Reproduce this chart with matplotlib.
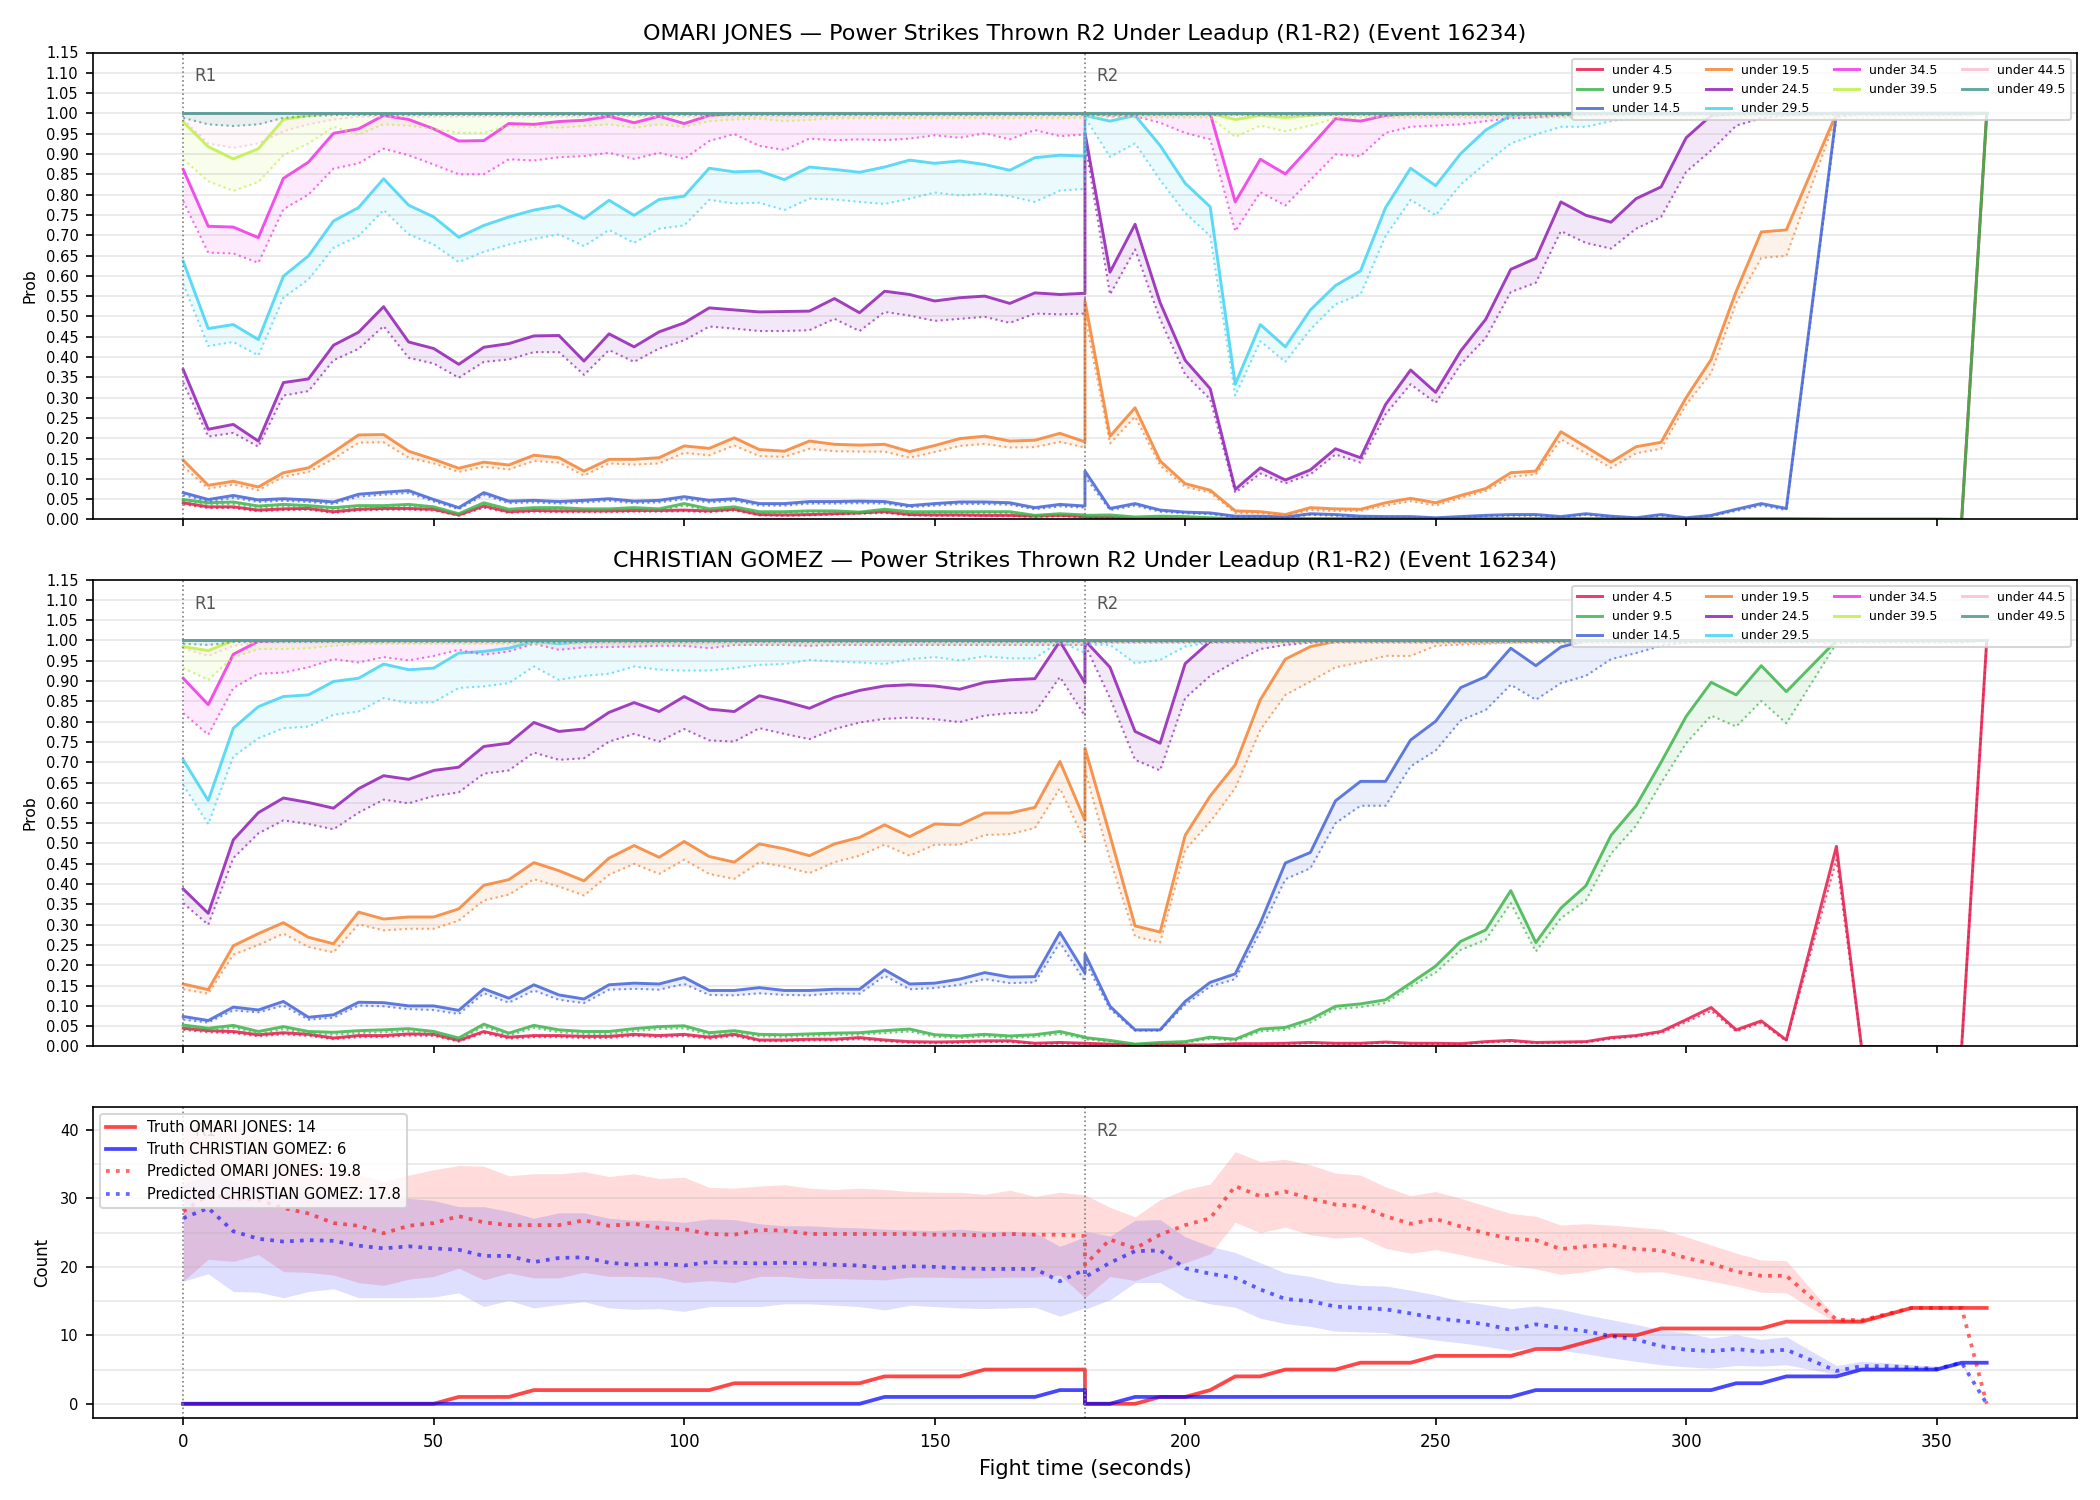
import matplotlib

matplotlib.use("Agg")
import matplotlib.pyplot as plt
import numpy as np
from matplotlib.ticker import FormatStrFormatter, MultipleLocator

# Sample times in seconds: R1 0-180, R2 180-360 (there is no 325 s sample).
TIME = np.concatenate([np.arange(0, 181, 5), np.arange(180, 321, 5), np.arange(330, 361, 5)])
ROUND_STARTS = [0, 180]
ROUND_NAMES = ["R1", "R2"]

THRESHOLDS = ["under 4.5", "under 9.5", "under 14.5", "under 19.5", "under 24.5",
              "under 29.5", "under 34.5", "under 39.5", "under 44.5", "under 49.5"]
COLORS = ["#e6194B", "#3cb44b", "#4363d8", "#f58231", "#911eb4",
          "#42d4f4", "#f032e6", "#bfef45", "#fabed4", "#469990"]

# ---------------- OMARI JONES: P(under x), line and lower bound ----------------
OJ_U4_5 = [
    0.041, 0.031, 0.031, 0.023, 0.026, 0.027, 0.019, 0.025, 0.027, 0.027,
    0.025, 0.011, 0.033, 0.019, 0.022, 0.021, 0.021, 0.021, 0.022, 0.022,
    0.023, 0.021, 0.025, 0.012, 0.011, 0.012, 0.014, 0.016, 0.019, 0.012,
    0.011, 0.011, 0.010, 0.010, 0.008, 0.010, 0.007,
] + [0.006, 0.005, 0.002, 0.002, 0.002, 0.001] + [0.001] * 23 + [0.0] * 6 + [1.0]
OJ_U4_5_LO = [
    0.037, 0.028, 0.028, 0.020, 0.023, 0.024, 0.016, 0.022, 0.024, 0.024,
    0.022, 0.009, 0.029, 0.016, 0.019, 0.018, 0.018, 0.018, 0.019, 0.019,
    0.020, 0.018, 0.022, 0.010, 0.009, 0.010, 0.012, 0.014, 0.016, 0.010,
    0.009, 0.009, 0.008, 0.008, 0.006, 0.008, 0.005,
] + [0.004, 0.003, 0.001, 0.001, 0.001, 0.0] + [0.0] * 29 + [1.0]

OJ_U9_5 = [
    0.049, 0.041, 0.043, 0.033, 0.037, 0.034, 0.029, 0.034, 0.034, 0.037,
    0.031, 0.014, 0.041, 0.025, 0.029, 0.029, 0.026, 0.026, 0.029, 0.026,
    0.039, 0.026, 0.031, 0.019, 0.019, 0.021, 0.021, 0.018, 0.025, 0.019,
    0.019, 0.019, 0.019, 0.019, 0.010, 0.014, 0.011,
] + [0.010, 0.011, 0.006, 0.008, 0.007, 0.004] + [0.002] * 23 + [0.001] * 5 + [0.0, 1.0]
OJ_U9_5_LO = [
    0.044, 0.036, 0.038, 0.028, 0.032, 0.029, 0.025, 0.029, 0.029, 0.032,
    0.027, 0.011, 0.036, 0.021, 0.025, 0.025, 0.022, 0.022, 0.025, 0.022,
    0.034, 0.022, 0.027, 0.016, 0.016, 0.018, 0.018, 0.015, 0.021, 0.016,
    0.016, 0.016, 0.016, 0.016, 0.008, 0.011, 0.009,
] + [0.008, 0.009, 0.004, 0.006, 0.005, 0.003] + [0.001] * 23 + [0.0] * 6 + [1.0]

OJ_U14_5 = [
    0.066, 0.049, 0.059, 0.048, 0.051, 0.048, 0.043, 0.062, 0.067, 0.071,
    0.049, 0.029, 0.066, 0.045, 0.047, 0.044, 0.047, 0.051, 0.045, 0.047,
    0.056, 0.047, 0.051, 0.039, 0.039, 0.044, 0.044, 0.045, 0.044, 0.034,
    0.039, 0.043, 0.043, 0.041, 0.029, 0.037, 0.033,
] + [
    0.119, 0.027, 0.039, 0.023, 0.018, 0.016, 0.008, 0.008, 0.006, 0.014,
    0.012, 0.008, 0.007, 0.007, 0.004, 0.007, 0.010, 0.012, 0.012, 0.007,
    0.014, 0.008, 0.004, 0.012, 0.004, 0.010, 0.025, 0.039, 0.027,
] + [1.0] * 7
OJ_U14_5_LO = [
    0.060, 0.044, 0.053, 0.043, 0.046, 0.043, 0.038, 0.056, 0.061, 0.065,
    0.044, 0.025, 0.060, 0.040, 0.042, 0.039, 0.042, 0.046, 0.040, 0.042,
    0.050, 0.042, 0.046, 0.034, 0.034, 0.039, 0.039, 0.040, 0.039, 0.030,
    0.034, 0.038, 0.038, 0.036, 0.025, 0.032, 0.029,
] + [
    0.105, 0.023, 0.034, 0.019, 0.015, 0.013, 0.006, 0.006, 0.004, 0.011,
    0.009, 0.006, 0.005, 0.005, 0.003, 0.005, 0.008, 0.009, 0.009, 0.005,
    0.011, 0.006, 0.003, 0.009, 0.003, 0.008, 0.021, 0.034, 0.023,
] + [0.99] + [1.0] * 6

OJ_U19_5 = [
    0.146, 0.084, 0.094, 0.080, 0.115, 0.127, 0.166, 0.208, 0.209, 0.168,
    0.148, 0.126, 0.141, 0.134, 0.158, 0.152, 0.119, 0.148, 0.148, 0.152,
    0.181, 0.175, 0.201, 0.172, 0.168, 0.193, 0.185, 0.183, 0.185, 0.167,
    0.182, 0.199, 0.205, 0.193, 0.195, 0.212, 0.191,
] + [
    0.538, 0.205, 0.275, 0.144, 0.088, 0.072, 0.021, 0.019, 0.012, 0.029,
    0.026, 0.025, 0.041, 0.052, 0.041, 0.059, 0.076, 0.115, 0.119, 0.216,
    0.179, 0.141, 0.179, 0.190, 0.300, 0.394, 0.562, 0.708, 0.713,
] + [1.0] * 7
OJ_U19_5_LO = [
    0.130, 0.076, 0.086, 0.072, 0.105, 0.117, 0.149, 0.189, 0.190, 0.152,
    0.138, 0.117, 0.130, 0.123, 0.144, 0.140, 0.108, 0.138, 0.135, 0.138,
    0.164, 0.158, 0.182, 0.156, 0.154, 0.174, 0.168, 0.167, 0.167, 0.152,
    0.166, 0.181, 0.186, 0.177, 0.178, 0.191, 0.177,
] + [
    0.500, 0.187, 0.253, 0.133, 0.080, 0.066, 0.016, 0.015, 0.010, 0.023,
    0.021, 0.021, 0.034, 0.045, 0.034, 0.053, 0.070, 0.105, 0.111, 0.197,
    0.163, 0.127, 0.163, 0.174, 0.283, 0.361, 0.534, 0.644, 0.649,
] + [0.993] + [1.0] * 6

OJ_U24_5 = [
    0.369, 0.222, 0.234, 0.193, 0.337, 0.346, 0.429, 0.461, 0.524, 0.437,
    0.421, 0.382, 0.424, 0.433, 0.452, 0.453, 0.390, 0.457, 0.425, 0.462,
    0.484, 0.521, 0.516, 0.511, 0.512, 0.513, 0.544, 0.509, 0.562, 0.554,
    0.538, 0.546, 0.550, 0.532, 0.558, 0.554, 0.557,
] + [
    0.952, 0.609, 0.727, 0.534, 0.392, 0.322, 0.074, 0.127, 0.097, 0.122,
    0.174, 0.152, 0.283, 0.368, 0.313, 0.415, 0.493, 0.616, 0.643, 0.782,
    0.749, 0.732, 0.790, 0.819, 0.940, 0.995, 1.0, 1.0, 1.0,
] + [1.0] * 7
OJ_U24_5_LO = [
    0.337, 0.204, 0.213, 0.179, 0.305, 0.316, 0.392, 0.420, 0.476, 0.398,
    0.384, 0.349, 0.388, 0.394, 0.412, 0.412, 0.356, 0.417, 0.388, 0.421,
    0.441, 0.475, 0.470, 0.464, 0.464, 0.466, 0.494, 0.464, 0.511, 0.502,
    0.489, 0.494, 0.499, 0.484, 0.507, 0.505, 0.507,
] + [
    0.930, 0.554, 0.665, 0.493, 0.357, 0.296, 0.066, 0.113, 0.089, 0.111,
    0.160, 0.140, 0.259, 0.333, 0.287, 0.382, 0.447, 0.560, 0.583, 0.710,
    0.681, 0.667, 0.716, 0.745, 0.856, 0.909, 0.970, 0.988, 0.995,
] + [1.0] * 7

OJ_U29_5 = [
    0.636, 0.470, 0.480, 0.443, 0.599, 0.649, 0.735, 0.768, 0.839, 0.774,
    0.745, 0.695, 0.724, 0.745, 0.762, 0.773, 0.741, 0.786, 0.749, 0.788,
    0.796, 0.865, 0.856, 0.858, 0.837, 0.868, 0.862, 0.855, 0.868, 0.885,
    0.877, 0.883, 0.874, 0.860, 0.891, 0.897, 0.895,
] + [
    0.995, 0.981, 0.995, 0.921, 0.828, 0.770, 0.333, 0.480, 0.425, 0.516,
    0.576, 0.612, 0.768, 0.865, 0.822, 0.901, 0.959, 0.995,
] + [1.0] * 18
OJ_U29_5_LO = [
    0.580, 0.427, 0.437, 0.404, 0.546, 0.591, 0.669, 0.698, 0.762, 0.702,
    0.677, 0.634, 0.659, 0.677, 0.691, 0.702, 0.673, 0.713, 0.681, 0.716,
    0.724, 0.787, 0.778, 0.780, 0.762, 0.790, 0.788, 0.782, 0.777, 0.790,
    0.805, 0.798, 0.802, 0.796, 0.782, 0.810, 0.814,
] + [
    0.990, 0.893, 0.926, 0.836, 0.755, 0.698, 0.305, 0.439, 0.388, 0.468,
    0.530, 0.554, 0.698, 0.787, 0.749, 0.825, 0.877, 0.926, 0.948, 0.967,
    0.967, 0.981, 0.990, 0.995, 0.997,
] + [1.0] * 11

OJ_U34_5 = [
    0.862, 0.722, 0.720, 0.694, 0.840, 0.880, 0.951, 0.962, 0.995, 0.985,
    0.962, 0.932, 0.933, 0.975, 0.973, 0.980, 0.983, 0.993, 0.977, 0.993,
    0.975, 0.995,
] + [1.0] * 15 + [1.0] * 6 + [0.782, 0.887, 0.851, 0.918, 0.987, 0.981, 0.995] + [1.0] * 23
OJ_U34_5_LO = [
    0.784, 0.657, 0.655, 0.632, 0.764, 0.800, 0.864, 0.877, 0.913, 0.897,
    0.874, 0.850, 0.850, 0.887, 0.884, 0.892, 0.895, 0.903, 0.888, 0.903,
    0.888, 0.932, 0.949, 0.920, 0.910, 0.938, 0.934, 0.936, 0.934, 0.938,
    0.946, 0.940, 0.951, 0.936, 0.959, 0.944, 0.948,
] + [
    1.0, 0.993, 0.993, 0.977, 0.952, 0.936, 0.710, 0.806, 0.773, 0.836,
    0.899, 0.895, 0.952, 0.967, 0.970, 0.973, 0.981, 0.988, 0.990, 0.995,
    0.997,
] + [1.0] * 15

OJ_U39_5 = [0.979, 0.918, 0.888, 0.913, 0.985, 0.995] + [1.0] * 31 \
    + [1.0] * 6 + [0.985, 0.995, 0.990, 0.995] + [1.0] * 26
OJ_U39_5_LO = [
    0.887, 0.833, 0.809, 0.831, 0.897, 0.926, 0.967, 0.948, 0.973, 0.970,
    0.962, 0.952, 0.952, 0.969, 0.967, 0.965, 0.969, 0.973, 0.965, 0.973,
    0.967, 0.981, 0.985, 0.987, 0.981, 0.984,
] + [0.988] * 11 + [0.990] * 6 + [0.942, 0.970, 0.956, 0.970, 0.988] + [0.990] * 24 + [1.0]

OJ_U44_5 = [1.0] * 73
OJ_U44_5_LO = [0.985, 0.926, 0.915, 0.926, 0.956, 0.973, 0.985] + [0.992] * 30 + [0.994] * 35 + [1.0]
OJ_U49_5 = [1.0] * 73
OJ_U49_5_LO = [0.989, 0.973, 0.969, 0.973, 0.989, 0.993] + [0.996] * 31 + [0.996] * 35 + [1.0]

# ---------------- CHRISTIAN GOMEZ: P(under x), line and lower bound ----------------
CG_U4_5 = [
    0.045, 0.039, 0.037, 0.029, 0.034, 0.030, 0.021, 0.027, 0.027, 0.031,
    0.030, 0.015, 0.037, 0.023, 0.027, 0.027, 0.025, 0.025, 0.030, 0.027,
    0.030, 0.023, 0.030, 0.016, 0.016, 0.018, 0.018, 0.022, 0.016, 0.012,
    0.011, 0.012, 0.014, 0.014, 0.008, 0.010, 0.008,
] + [
    0.008, 0.006, 0.004, 0.006, 0.004, 0.004, 0.007, 0.007, 0.008, 0.010,
    0.008, 0.008, 0.011, 0.008, 0.008, 0.007, 0.012, 0.015, 0.010, 0.011,
    0.012, 0.022, 0.027, 0.037, 0.066, 0.096, 0.041, 0.063, 0.016,
] + [0.493, 0.0, 0.0, 0.0, 0.0, 0.0, 1.0]
CG_U4_5_LO = [
    0.041, 0.035, 0.033, 0.025, 0.030, 0.026, 0.018, 0.023, 0.023, 0.027,
    0.026, 0.012, 0.033, 0.019, 0.023, 0.023, 0.021, 0.021, 0.026, 0.023,
    0.026, 0.019, 0.026, 0.013, 0.013, 0.015, 0.015, 0.018, 0.013, 0.009,
    0.008, 0.009, 0.011, 0.011, 0.006, 0.007, 0.006,
] + [
    0.006, 0.004, 0.003, 0.004, 0.003, 0.003, 0.005, 0.005, 0.006, 0.008,
    0.006, 0.006, 0.009, 0.006, 0.006, 0.005, 0.010, 0.012, 0.008, 0.009,
    0.010, 0.019, 0.024, 0.033, 0.060, 0.088, 0.037, 0.058, 0.013,
] + [0.460, 0.0, 0.0, 0.0, 0.0, 0.0, 1.0]

CG_U9_5 = [
    0.053, 0.045, 0.052, 0.037, 0.049, 0.037, 0.035, 0.039, 0.041, 0.044,
    0.037, 0.021, 0.055, 0.033, 0.052, 0.041, 0.037, 0.037, 0.044, 0.049,
    0.051, 0.034, 0.039, 0.030, 0.029, 0.031, 0.033, 0.034, 0.039, 0.043,
    0.029, 0.026, 0.030, 0.026, 0.029, 0.037, 0.023,
] + [
    0.022, 0.015, 0.006, 0.010, 0.012, 0.023, 0.018, 0.043, 0.047, 0.067,
    0.099, 0.105, 0.115, 0.156, 0.198, 0.259, 0.287, 0.384, 0.256, 0.341,
    0.396, 0.520, 0.593, 0.700, 0.813, 0.897, 0.866, 0.938, 0.874,
] + [1.0] * 7
CG_U9_5_LO = [
    0.047, 0.039, 0.046, 0.031, 0.043, 0.031, 0.029, 0.033, 0.035, 0.038,
    0.031, 0.016, 0.049, 0.027, 0.046, 0.035, 0.031, 0.031, 0.038, 0.043,
    0.045, 0.028, 0.033, 0.025, 0.024, 0.026, 0.028, 0.029, 0.033, 0.037,
    0.024, 0.021, 0.025, 0.021, 0.024, 0.031, 0.019,
] + [
    0.018, 0.012, 0.004, 0.007, 0.009, 0.019, 0.014, 0.037, 0.041, 0.059,
    0.092, 0.097, 0.107, 0.148, 0.182, 0.238, 0.263, 0.353, 0.234, 0.316,
    0.360, 0.475, 0.544, 0.649, 0.747, 0.815, 0.788, 0.851, 0.796,
] + [0.993] + [1.0] * 6

CG_U14_5 = [
    0.074, 0.064, 0.097, 0.090, 0.111, 0.072, 0.078, 0.109, 0.108, 0.100,
    0.100, 0.089, 0.142, 0.119, 0.152, 0.127, 0.117, 0.152, 0.156, 0.154,
    0.170, 0.138, 0.138, 0.145, 0.138, 0.138, 0.141, 0.141, 0.189, 0.154,
    0.156, 0.166, 0.182, 0.171, 0.172, 0.281, 0.181,
] + [
    0.228, 0.099, 0.041, 0.041, 0.111, 0.158, 0.179, 0.304, 0.452, 0.478,
    0.605, 0.653, 0.653, 0.755, 0.801, 0.884, 0.911, 0.981, 0.938, 0.984,
] + [1.0] * 16
CG_U14_5_LO = [
    0.066, 0.059, 0.089, 0.084, 0.101, 0.066, 0.071, 0.101, 0.099, 0.092,
    0.090, 0.080, 0.131, 0.108, 0.138, 0.115, 0.107, 0.140, 0.142, 0.140,
    0.154, 0.127, 0.126, 0.131, 0.127, 0.126, 0.131, 0.130, 0.174, 0.141,
    0.144, 0.152, 0.166, 0.156, 0.158, 0.256, 0.160,
] + [
    0.210, 0.092, 0.039, 0.039, 0.103, 0.148, 0.166, 0.283, 0.412, 0.439,
    0.550, 0.593, 0.593, 0.690, 0.729, 0.803, 0.829, 0.891, 0.854, 0.895,
    0.913, 0.954, 0.969, 0.987, 0.995,
] + [1.0] * 11

CG_U19_5 = [
    0.154, 0.140, 0.248, 0.278, 0.305, 0.269, 0.253, 0.331, 0.314, 0.319,
    0.319, 0.339, 0.397, 0.411, 0.453, 0.433, 0.408, 0.464, 0.495, 0.466,
    0.505, 0.468, 0.454, 0.499, 0.487, 0.470, 0.499, 0.515, 0.546, 0.517,
    0.548, 0.546, 0.575, 0.575, 0.589, 0.702, 0.557,
] + [0.735, 0.520, 0.297, 0.282, 0.520, 0.617, 0.694, 0.854, 0.954, 0.985, 0.998] + [1.0] * 25
CG_U19_5_LO = [
    0.141, 0.130, 0.226, 0.250, 0.278, 0.245, 0.232, 0.301, 0.286, 0.290,
    0.290, 0.310, 0.360, 0.374, 0.412, 0.394, 0.372, 0.423, 0.450, 0.425,
    0.460, 0.425, 0.413, 0.454, 0.443, 0.427, 0.454, 0.470, 0.497, 0.470,
    0.497, 0.497, 0.521, 0.523, 0.538, 0.636, 0.505,
] + [
    0.680, 0.460, 0.271, 0.256, 0.484, 0.554, 0.636, 0.780, 0.866, 0.899,
    0.934, 0.946, 0.962, 0.962, 0.987, 0.990, 0.992, 0.995, 0.997,
] + [1.0] * 17

CG_U24_5 = [
    0.388, 0.328, 0.509, 0.576, 0.612, 0.601, 0.587, 0.635, 0.667, 0.658,
    0.680, 0.688, 0.739, 0.747, 0.798, 0.776, 0.782, 0.823, 0.847, 0.825,
    0.862, 0.831, 0.825, 0.864, 0.850, 0.833, 0.860, 0.877, 0.888, 0.891,
    0.888, 0.880, 0.897, 0.903, 0.906, 0.998, 0.895,
] + [1.0, 0.934, 0.776, 0.747, 0.943, 0.998] + [1.0] * 30
CG_U24_5_LO = [
    0.353, 0.300, 0.464, 0.525, 0.557, 0.548, 0.535, 0.576, 0.608, 0.599,
    0.617, 0.626, 0.672, 0.680, 0.724, 0.706, 0.710, 0.751, 0.770, 0.751,
    0.782, 0.754, 0.751, 0.784, 0.770, 0.757, 0.782, 0.798, 0.807, 0.810,
    0.806, 0.799, 0.815, 0.821, 0.823, 0.910, 0.814,
] + [0.990, 0.858, 0.706, 0.680, 0.858, 0.913, 0.948, 0.979, 0.989, 0.995] + [1.0] * 26

CG_U29_5 = [
    0.706, 0.606, 0.784, 0.837, 0.862, 0.866, 0.899, 0.907, 0.942, 0.928,
    0.932, 0.969, 0.973, 0.981, 0.998, 0.992, 0.998,
] + [1.0] * 20 + [1.0] * 36
CG_U29_5_LO = [
    0.644, 0.548, 0.714, 0.759, 0.784, 0.788, 0.817, 0.825, 0.858, 0.846,
    0.848, 0.883, 0.887, 0.895, 0.936, 0.903, 0.913, 0.918, 0.936, 0.928,
    0.926, 0.926, 0.932, 0.940, 0.942, 0.952, 0.948, 0.946, 0.942, 0.954,
    0.959, 0.951, 0.961, 0.956, 0.956, 0.998, 0.969,
] + [0.990, 0.989, 0.944, 0.952, 0.985, 0.995] + [1.0] * 30

CG_U34_5 = [0.907, 0.842, 0.966, 0.998] + [1.0] * 33 + [1.0] * 36
CG_U34_5_LO = [
    0.821, 0.768, 0.883, 0.918, 0.921, 0.934, 0.954, 0.946, 0.959, 0.951,
    0.962, 0.977, 0.965, 0.973, 0.992, 0.977, 0.983, 0.984, 0.985, 0.987,
    0.987, 0.981, 0.989, 0.989, 0.989, 0.987,
] + [0.989] * 11 + [0.995] * 35 + [1.0]

CG_U39_5 = [0.985, 0.975] + [1.0] * 35 + [1.0] * 36
CG_U39_5_LO = [0.932, 0.903, 0.959, 0.979, 0.979, 0.981, 0.987] + [0.992] * 30 + [0.995] * 35 + [1.0]
CG_U44_5 = [1.0] * 73
CG_U44_5_LO = [0.981, 0.962, 0.987] + [0.995] * 34 + [0.996] * 35 + [1.0]
CG_U49_5 = [1.0] * 73
CG_U49_5_LO = [0.992, 0.989] + [0.996] * 35 + [0.997] * 35 + [1.0]

# ---------------- cumulative counts ----------------
TRUTH_OMARI = [0] * 11 + [1] * 3 + [2] * 8 + [3] * 6 + [4] * 4 + [5] * 5 + [
    0, 0, 0, 1, 1, 2, 4, 4, 5, 5, 5, 6, 6, 6, 7, 7, 7, 7, 8, 8,
    9, 10, 10, 11, 11, 11, 11, 11, 12, 12, 12, 13, 14, 14, 14, 14]
TRUTH_GOMEZ = [0] * 28 + [1] * 7 + [2] * 2 + [0, 0] + [1] * 16 + [2] * 8 + [3, 3, 4] \
    + [4, 5, 5, 5, 5, 6, 6]

PRED_OMARI = [
    28.1, 30.5, 30.0, 29.8, 28.6, 27.8, 26.4, 26.0, 24.9, 26.0,
    26.4, 27.4, 26.5, 26.1, 26.1, 26.1, 26.8, 26.0, 26.3, 25.7,
    25.5, 24.8, 24.7, 25.4, 25.3, 24.8, 24.8, 24.8, 24.8, 24.8,
    24.7, 24.7, 24.6, 24.8, 24.7, 24.7, 24.5,
] + [
    20.3, 24.0, 22.7, 24.7, 26.1, 27.1, 31.8, 30.3, 31.0, 30.0,
    29.1, 28.9, 27.4, 26.3, 27.0, 25.9, 24.9, 24.1, 23.9, 22.6,
    23.0, 23.2, 22.6, 22.4, 21.3, 20.5, 19.3, 18.7, 18.7,
    12.3, 12.2, 13.1, 14.0, 14.0, 14.0, 0.0,
]
PRED_OMARI_LO = [
    17.9, 21.1, 20.8, 21.8, 19.3, 19.2, 18.8, 17.7, 17.3, 18.2,
    18.6, 19.8, 18.1, 19.1, 18.4, 18.4, 19.2, 18.6, 18.6, 18.5,
    17.7, 18.0, 17.7, 18.6, 18.6, 18.3, 18.3, 18.2, 18.1, 18.5,
    18.5, 18.4, 18.4, 18.5, 18.5, 18.8, 15.5,
] + [
    15.5, 18.6, 18.0, 19.3, 20.6, 21.9, 26.5, 25.0, 25.8, 24.7,
    24.2, 24.4, 22.7, 22.0, 22.5, 21.8, 21.0, 20.2, 19.7, 18.9,
    19.3, 20.0, 19.2, 19.3, 18.6, 17.9, 17.2, 16.3, 16.2,
    11.8, 11.7, 12.8, 13.9, 13.9, 13.9, 0.0,
]
PRED_OMARI_HI = [
    40.5, 41.4, 40.8, 39.0, 37.5, 36.0, 34.5, 33.5, 32.5, 33.4,
    34.2, 34.8, 34.7, 33.3, 33.6, 33.6, 33.9, 33.2, 33.6, 32.9,
    33.1, 31.6, 31.5, 31.8, 32.0, 31.5, 31.3, 31.5, 31.3, 31.0,
    30.9, 30.9, 30.6, 31.2, 30.3, 30.9, 30.5,
] + [
    30.5, 28.7, 27.3, 29.8, 31.3, 32.1, 36.8, 35.4, 35.7, 34.9,
    33.7, 33.4, 31.7, 30.4, 31.0, 30.0, 28.9, 27.8, 27.4, 26.1,
    26.3, 26.1, 25.8, 25.5, 24.4, 23.2, 22.0, 21.0, 20.9,
    12.5, 12.5, 13.3, 14.1, 14.1, 14.1, 0.0,
]

PRED_GOMEZ = [
    27.1, 28.6, 25.2, 24.1, 23.7, 23.9, 23.8, 23.1, 22.7, 23.0,
    22.7, 22.5, 21.6, 21.6, 20.7, 21.3, 21.4, 20.6, 20.3, 20.5,
    20.2, 20.7, 20.6, 20.5, 20.6, 20.5, 20.3, 20.2, 19.8, 20.1,
    20.0, 19.8, 19.7, 19.7, 19.7, 17.9, 19.6,
] + [
    18.5, 20.6, 22.3, 22.4, 19.8, 19.0, 18.4, 16.7, 15.3, 15.0,
    14.2, 14.0, 13.8, 13.2, 12.5, 12.1, 11.6, 10.8, 11.6, 11.1,
    10.6, 9.9, 9.4, 8.4, 7.9, 7.7, 8.0, 7.6, 7.9,
    4.8, 5.5, 5.5, 5.3, 5.1, 6.0, 0.0,
]
PRED_GOMEZ_LO = [
    17.9, 19.0, 16.4, 16.3, 15.5, 16.4, 16.8, 15.5, 15.5, 15.5,
    15.6, 16.2, 14.2, 15.1, 14.0, 14.5, 14.9, 14.0, 13.8, 13.9,
    13.5, 14.2, 14.2, 14.2, 14.6, 14.6, 14.4, 14.2, 13.7, 14.4,
    14.2, 14.0, 13.9, 14.0, 14.1, 12.8, 14.0,
] + [
    13.8, 15.2, 17.7, 17.7, 15.5, 14.6, 14.1, 12.5, 11.7, 11.3,
    10.6, 10.5, 10.4, 9.8, 9.3, 8.9, 8.4, 7.8, 8.3, 7.8,
    7.3, 6.7, 6.2, 5.7, 5.4, 5.2, 5.6, 5.5, 5.7,
    4.3, 4.8, 4.8, 4.8, 4.8, 5.7, 0.0,
]
PRED_GOMEZ_HI = [
    32.0, 33.5, 32.5, 31.5, 31.0, 30.8, 30.5, 30.3, 30.2, 30.0,
    29.7, 28.8, 28.8, 28.1, 27.1, 27.9, 27.9, 27.1, 26.8, 26.8,
    26.5, 27.0, 26.9, 26.3, 26.0, 26.0, 25.8, 25.7, 25.5, 25.4,
    25.3, 25.5, 25.2, 25.2, 25.0, 23.0, 24.4,
] + [
    25.2, 24.5, 26.8, 26.9, 24.4, 23.0, 22.1, 20.6, 19.1, 18.6,
    17.7, 17.3, 17.2, 16.6, 15.9, 15.0, 14.5, 13.9, 14.3, 13.8,
    13.0, 12.3, 11.6, 10.8, 10.4, 9.6, 10.1, 9.4, 9.8,
    5.6, 6.2, 6.0, 5.7, 5.5, 6.1, 0.0,
]

OMARI_LINES = [OJ_U4_5, OJ_U9_5, OJ_U14_5, OJ_U19_5, OJ_U24_5,
               OJ_U29_5, OJ_U34_5, OJ_U39_5, OJ_U44_5, OJ_U49_5]
OMARI_LOWS = [OJ_U4_5_LO, OJ_U9_5_LO, OJ_U14_5_LO, OJ_U19_5_LO, OJ_U24_5_LO,
              OJ_U29_5_LO, OJ_U34_5_LO, OJ_U39_5_LO, OJ_U44_5_LO, OJ_U49_5_LO]
GOMEZ_LINES = [CG_U4_5, CG_U9_5, CG_U14_5, CG_U19_5, CG_U24_5,
               CG_U29_5, CG_U34_5, CG_U39_5, CG_U44_5, CG_U49_5]
GOMEZ_LOWS = [CG_U4_5_LO, CG_U9_5_LO, CG_U14_5_LO, CG_U19_5_LO, CG_U24_5_LO,
              CG_U29_5_LO, CG_U34_5_LO, CG_U39_5_LO, CG_U44_5_LO, CG_U49_5_LO]

for i, s in enumerate(OMARI_LINES + OMARI_LOWS + GOMEZ_LINES + GOMEZ_LOWS):
    assert len(s) == len(TIME), (i, len(s))
for s in [TRUTH_OMARI, TRUTH_GOMEZ, PRED_OMARI, PRED_OMARI_LO, PRED_OMARI_HI,
          PRED_GOMEZ, PRED_GOMEZ_LO, PRED_GOMEZ_HI]:
    assert len(s) == len(TIME), len(s)

TITLE = "{} \u2014 Power Strikes Thrown R2 Under Leadup (R1-R2) (Event 16234)"


def mark_rounds(ax, y_text):
    for start, name in zip(ROUND_STARTS, ROUND_NAMES):
        ax.axvline(start, color="gray", linestyle=":", linewidth=0.8)
        ax.text(start + 2.3, y_text, name, color="#555555", fontsize=8,
                va="top", transform=ax.get_xaxis_transform())


def prob_panel(ax, fighter, lines, lows):
    for label, color, vals, lo in zip(THRESHOLDS, COLORS, lines, lows):
        ax.fill_between(TIME, lo, vals, color=color, alpha=0.1, linewidth=0)
        ax.plot(TIME, lo, color=color, linestyle=":", linewidth=1.0, alpha=0.7)
        ax.plot(TIME, vals, color=color, linewidth=1.4, alpha=0.85, label=label)
    ax.set_ylim(0, 1.15)
    ax.set_yticks(np.arange(0, 1.151, 0.05))
    ax.yaxis.set_major_formatter(FormatStrFormatter("%.2f"))
    ax.grid(True, axis="y", alpha=0.3)
    ax.set_ylabel("Prob", fontsize=7.5)
    ax.set_title(TITLE.format(fighter), fontsize=10.7)
    ax.tick_params(axis="y", labelsize=7)
    ax.tick_params(axis="x", labelbottom=False)
    mark_rounds(ax, 0.968)
    ax.legend(loc="upper right", ncol=4, fontsize=6)


fig = plt.figure(figsize=(14, 10), dpi=150)
gs = fig.add_gridspec(3, 1, height_ratios=[1.5, 1.5, 1], left=0.0443, right=0.989,
                      top=0.965, bottom=0.0547, hspace=0.145)
ax_oj = fig.add_subplot(gs[0])
ax_cg = fig.add_subplot(gs[1], sharex=ax_oj)
ax_ct = fig.add_subplot(gs[2], sharex=ax_oj)

prob_panel(ax_oj, "OMARI JONES", OMARI_LINES, OMARI_LOWS)
prob_panel(ax_cg, "CHRISTIAN GOMEZ", GOMEZ_LINES, GOMEZ_LOWS)

# count panel
ax_ct.fill_between(TIME, PRED_OMARI_LO, PRED_OMARI_HI, color="red", alpha=0.14, linewidth=0)
ax_ct.fill_between(TIME, PRED_GOMEZ_LO, PRED_GOMEZ_HI, color="blue", alpha=0.13, linewidth=0)
ax_ct.plot(TIME, TRUTH_OMARI, color="red", linewidth=1.8, alpha=0.72,
           label=f"Truth OMARI JONES: {TRUTH_OMARI[-1]}")
ax_ct.plot(TIME, TRUTH_GOMEZ, color="blue", linewidth=1.8, alpha=0.72,
           label=f"Truth CHRISTIAN GOMEZ: {TRUTH_GOMEZ[-1]}")
ax_ct.plot(TIME, PRED_OMARI, color="red", linestyle=":", linewidth=1.8, alpha=0.6,
           label="Predicted OMARI JONES: 19.8")
ax_ct.plot(TIME, PRED_GOMEZ, color="blue", linestyle=":", linewidth=1.8, alpha=0.6,
           label="Predicted CHRISTIAN GOMEZ: 17.8")
ax_ct.set_ylim(-2.07, 43.4)
ax_ct.yaxis.set_major_locator(MultipleLocator(10))
ax_ct.yaxis.set_minor_locator(MultipleLocator(5))
ax_ct.grid(True, axis="y", which="both", alpha=0.3)
ax_ct.tick_params(axis="y", which="minor", length=0)
ax_ct.tick_params(axis="y", labelsize=7)
ax_ct.tick_params(axis="x", labelsize=8)
ax_ct.set_ylabel("Count", fontsize=8)
ax_ct.set_xlabel("Fight time (seconds)", fontsize=10)
mark_rounds(ax_ct, 0.95)
leg = ax_ct.legend(loc="upper left", fontsize=7)
leg.set_zorder(5)

ax_ct.set_xlim(-18, 378)
ax_ct.set_xticks(np.arange(0, 351, 50))

fig.savefig("out.png", dpi=150)
